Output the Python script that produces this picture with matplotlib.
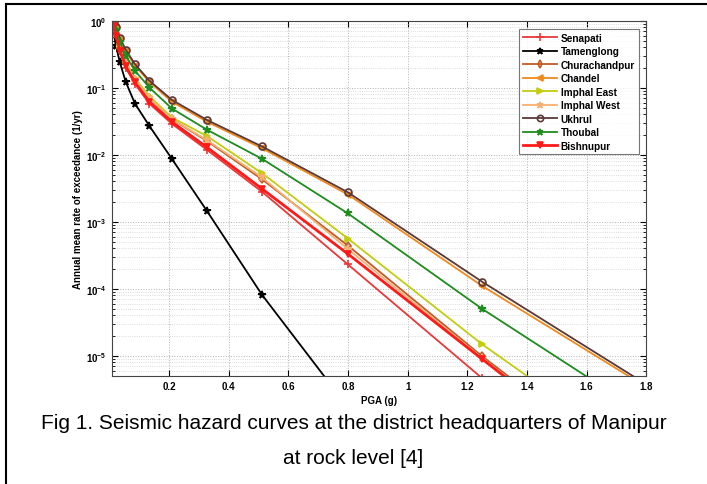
import matplotlib
matplotlib.use("Agg")
import matplotlib.pyplot as plt
from matplotlib.lines import Line2D

pga = [0.0144, 0.0225, 0.0352, 0.055, 0.0859, 0.1342, 0.2097, 0.3277, 0.512, 0.8, 1.25, 1.953]

names = ["Senapati", "Tamenglong", "Churachandpur", "Chandel", "Imphal East",
         "Imphal West", "Ukhrul", "Thoubal", "Bishnupur"]

senapati      = [0.84, 0.58, 0.35, 0.20, 0.115, 0.058, 0.029, 0.0118, 2.8e-3, 2.3e-4, 4.6e-6, 1.0e-8]
tamenglong    = [0.65, 0.42, 0.24, 0.123, 0.058, 0.027, 0.0087, 1.44e-3, 8.1e-5, 1.7e-6, 1.0e-9, 1.0e-12]
churachandpur = [0.88, 0.63, 0.40, 0.24, 0.132, 0.070, 0.034, 0.016, 4.3e-3, 4.4e-4, 9.8e-6, 4.0e-8]
chandel       = [0.93, 0.78, 0.54, 0.35, 0.215, 0.122, 0.062, 0.031, 0.0125, 2.55e-3, 1.1e-4, 1.3e-6]
imphal_east   = [0.90, 0.66, 0.42, 0.25, 0.140, 0.075, 0.036, 0.019, 5.3e-3, 5.6e-4, 1.48e-5, 9.0e-8]
imphal_west   = [0.88, 0.64, 0.40, 0.24, 0.135, 0.071, 0.034, 0.0165, 4.6e-3, 3.9e-4, 9.2e-6, 3.5e-8]
ukhrul        = [0.95, 0.80, 0.56, 0.37, 0.226, 0.128, 0.066, 0.033, 0.0133, 2.75e-3, 1.27e-4, 1.4e-6]
thoubal       = [0.92, 0.72, 0.48, 0.30, 0.180, 0.101, 0.049, 0.0236, 8.7e-3, 1.33e-3, 5.0e-5, 4.7e-7]
bishnupur     = [0.85, 0.60, 0.36, 0.21, 0.120, 0.062, 0.031, 0.0129, 3.1e-3, 3.3e-4, 8.9e-6, 3.2e-8]

series = [senapati, tamenglong, churachandpur, chandel, imphal_east,
          imphal_west, ukhrul, thoubal, bishnupur]

colors = ["#e8383a", "#000000", "#c05a28", "#f08a1c", "#c2cc10",
          "#f8b070", "#5c3838", "#1e8c1e", "#ff1a1a"]
markers = ["+", "*", "d", "<", ">", "*", "o", "*", "v"]
mfc = ["#e8383a", "#000000", "none", "#f08a1c", "#c2cc10",
       "#f8b070", "none", "#1e8c1e", "#ff1a1a"]
lws = [1.3, 1.3, 1.3, 1.3, 1.3, 1.3, 1.3, 1.3, 2.0]
msizes = [6, 5.5, 4.5, 5, 5, 5.5, 5, 5.5, 5]

plt.rcParams['font.family'] = ['Liberation Sans', 'DejaVu Sans']

fig = plt.figure(figsize=(7.07, 4.85), dpi=100)
ax = fig.add_axes([0.158, 0.223, 0.756, 0.732])

for ys, name, c, m, fc, lw, ms in zip(series, names, colors, markers, mfc, lws, msizes):
    ax.plot(pga, ys, color=c, marker=m, markerfacecolor=fc, markeredgecolor=c,
            lw=lw, ms=ms, mew=1.2, label=name)

ax.set_yscale("log")
ax.set_xlim(0.008, 1.8)
ax.set_ylim(5e-6, 1)
ax.set_xticks([0.2, 0.4, 0.6, 0.8, 1.0, 1.2, 1.4, 1.6, 1.8])
ax.set_xticklabels(["0.2", "0.4", "0.6", "0.8", "1", "1.2", "1.4", "1.6", "1.8"])
ax.set_yticks([1e-5, 1e-4, 1e-3, 1e-2, 1e-1, 1])

ax.grid(True, which="major", ls=":", color="#b0b0b0", lw=0.7)
ax.grid(True, which="minor", axis="y", ls=":", color="#d0d0d0", lw=0.6)
ax.tick_params(which="both", direction="in", top=True, right=True, labelsize=7)
ax.tick_params(which="major", length=4)
ax.tick_params(which="minor", length=2)
for lab in ax.get_xticklabels() + ax.get_yticklabels():
    lab.set_fontweight("bold")
for sp in ax.spines.values():
    sp.set_color("#444444")

ax.set_xlabel("PGA (g)", fontsize=7, fontweight="bold", labelpad=3)
ax.set_ylabel("Annual mean rate of exceedance (1/yr)", fontsize=7, fontweight="bold", labelpad=2)

leg = ax.legend(loc="upper right", prop={"weight": "bold", "size": 7.2},
                frameon=True, fancybox=False, edgecolor="#555555", borderpad=0.35,
                labelspacing=0.35, handlelength=3.4, handletextpad=0.4, markerscale=0.9,
                bbox_to_anchor=(0.995, 0.99))
leg.get_frame().set_linewidth(0.8)

fig.text(0.5, 0.126, "Fig 1. Seismic hazard curves at the district headquarters of Manipur",
         ha="center", va="center", fontsize=15)
fig.text(0.5, 0.054, "at rock level [4]", ha="center", va="center", fontsize=15)

fig.add_artist(Line2D([0.0085, 0.0085], [0.0, 0.99], transform=fig.transFigure, color="black", lw=1.5))
fig.add_artist(Line2D([0.0085, 0.998], [0.99, 0.99], transform=fig.transFigure, color="black", lw=1.5))

fig.savefig("out.png", dpi=100)
